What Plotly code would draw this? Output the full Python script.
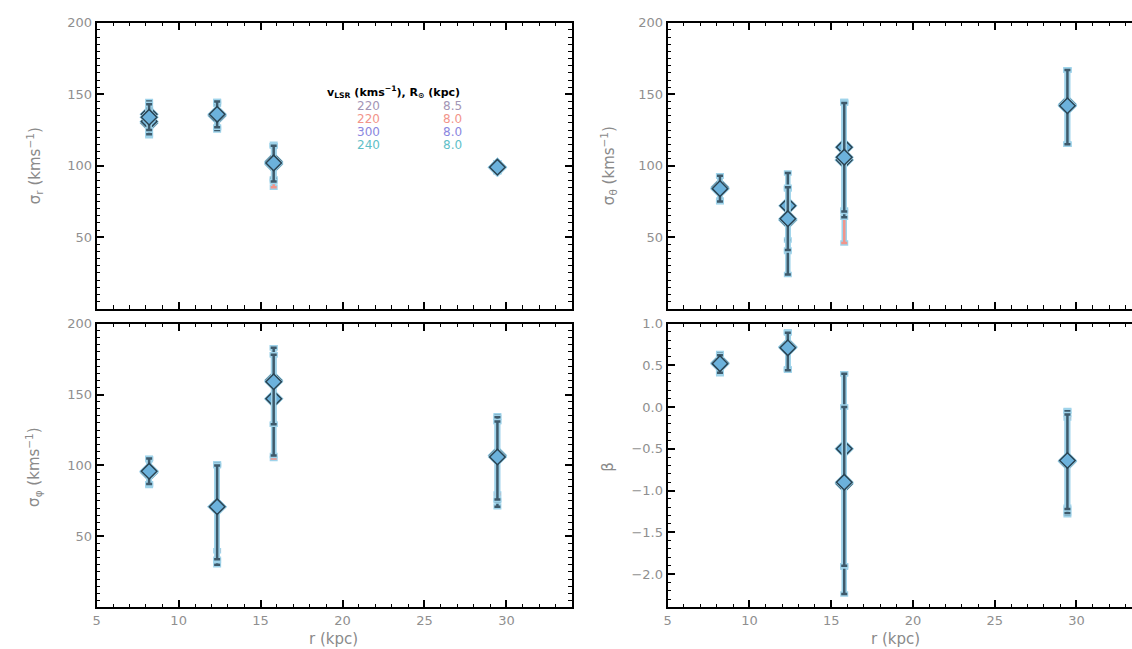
import plotly.graph_objects as go

# ---------------- data ----------------
r_kpc = [8.2, 12.35, 15.8, 29.45]

vlsr = [220, 220, 300, 240]
r0 = [8.5, 8.0, 8.0, 8.0]
model_colors = ["#a395b5", "#f2948a", "#8a86e0", "#5fc0c8"]

# rows = models (220/8.5, 220/8.0, 300/8.0, 240/8.0); columns = r bins
sigma_r_val = [[136, 135, 102, 99], [130, 136, 101, 99], [131, 135, 103, 99], [134, 136, 102, 99]]
sigma_r_up = [[9, 9, 12, 3], [9, 9, 13, 3], [9, 8, 12, 3], [9, 9, 12, 3]]
sigma_r_dn = [[9, 9, 12, 3], [9, 9, 16, 3], [9, 10, 12, 3], [9, 9, 13, 3]]

sigma_t_val = [[84, 72, 113, 142], [84, 62, 104, 143], [85, 62, 104, 142], [84, 63, 106, 142]]
sigma_t_up = [[9, 23, 32, 25], [9, 22, 41, 24], [8, 22, 40, 25], [9, 22, 38, 25]]
sigma_t_dn = [[9, 24, 44, 27], [9, 22, 58, 28], [9, 38, 40, 27], [9, 22, 38, 27]]

sigma_p_val = [[96, 71, 160, 107], [95, 71, 147, 107], [96, 71, 147, 107], [96, 71, 159, 106]]
sigma_p_up = [[9, 30, 23, 28], [9, 29, 36, 24], [9, 30, 31, 27], [9, 29, 19, 25]]
sigma_p_dn = [[9, 41, 31, 36], [9, 31, 42, 27], [9, 38, 40, 32], [9, 37, 30, 30]]

beta_val = [[0.52, 0.72, -0.50, -0.65], [0.52, 0.72, -0.92, -0.65], [0.53, 0.72, -0.50, -0.65], [0.52, 0.71, -0.90, -0.64]]
beta_up = [[0.11, 0.18, 0.90, 0.61], [0.10, 0.17, 0.92, 0.52], [0.11, 0.18, 0.90, 0.60], [0.10, 0.18, 0.90, 0.55]]
beta_dn = [[0.12, 0.27, 1.74, 0.64], [0.11, 0.27, 1.00, 0.55], [0.12, 0.26, 1.40, 0.62], [0.11, 0.27, 1.00, 0.58]]

draw_order = [1, 0, 2, 3]

# ---------------- layout geometry ----------------
W, H = 1132, 649
def px_x(p):
    return p / W
def px_y(p):
    return 1 - p / H

dom_left = [px_x(93), px_x(570)]
dom_right = [px_x(666), 1.0]
dom_top = [px_y(305), px_y(16)]
dom_bot = [px_y(607), px_y(320)]

fig = go.Figure()

panels = [
    ("x", "y", sigma_r_val, sigma_r_up, sigma_r_dn),
    ("x2", "y2", sigma_t_val, sigma_t_up, sigma_t_dn),
    ("x3", "y3", sigma_p_val, sigma_p_up, sigma_p_dn),
    ("x4", "y4", beta_val, beta_up, beta_dn),
]

halo = "#9fd3ea"
bar_dark = "#3e5a6b"
marker_fill = "#6cb2dc"
marker_edge = "#2a4453"

for xa, ya, vals, ups, dns in panels:
    for m in draw_order:
        ebar_col = model_colors[1] if m == 1 else bar_dark
        # light halo under the error bars
        fig.add_trace(go.Scatter(
            x=r_kpc, y=vals[m], xaxis=xa, yaxis=ya, mode="markers",
            marker=dict(symbol="diamond", size=15, color=halo, line=dict(width=0)),
            error_y=dict(type="data", symmetric=False, array=ups[m], arrayminus=dns[m],
                         color=halo, thickness=5.5, width=4),
            showlegend=False, hoverinfo="skip"))
        fig.add_trace(go.Scatter(
            x=r_kpc, y=vals[m], xaxis=xa, yaxis=ya, mode="markers",
            marker=dict(symbol="diamond", size=12, color=marker_fill,
                        line=dict(width=1.5, color=marker_edge)),
            error_y=dict(type="data", symmetric=False, array=ups[m], arrayminus=dns[m],
                         color=ebar_col, thickness=2.5, width=3),
            name=f"{vlsr[m]} {r0[m]}", showlegend=False))

tick_font = dict(family="DejaVu Sans", size=13, color="#8f8f8f")
common_x = dict(ticks="inside", ticklen=7, tickwidth=1.5, tickcolor="black",
                showline=True, linecolor="black", linewidth=2, mirror="allticks",
                showgrid=False, zeroline=False, tickvals=[5, 10, 15, 20, 25, 30],
                minor=dict(ticks="inside", ticklen=3.5, tickwidth=1.2, tickcolor="black", dtick=1, showgrid=False),
                tickfont=tick_font)
common_ys = dict(ticks="inside", ticklen=7, tickwidth=1.5, tickcolor="black",
                 showline=True, linecolor="black", linewidth=2,
                 showgrid=False, zeroline=False, range=[0, 200], tickvals=[50, 100, 150, 200],
                 minor=dict(ticks="inside", ticklen=3.5, tickwidth=1.2, tickcolor="black", dtick=5, showgrid=False),
                 tickfont=tick_font)

fig.update_layout(
    width=W, height=H, margin=dict(l=0, r=0, t=0, b=0),
    paper_bgcolor="white", plot_bgcolor="white", showlegend=False,
    xaxis=dict(domain=dom_left, anchor="y", range=[5, 34], showticklabels=False, **common_x),
    xaxis2=dict(domain=dom_right, anchor="y2", range=[5, 33.4], showticklabels=False, **common_x),
    xaxis3=dict(domain=dom_left, anchor="y3", range=[5, 34], showticklabels=True, **common_x),
    xaxis4=dict(domain=dom_right, anchor="y4", range=[5, 33.4], showticklabels=True, **common_x),
    yaxis=dict(domain=dom_top, anchor="x", mirror="allticks", **common_ys),
    yaxis2=dict(domain=dom_top, anchor="x2", mirror=False, **common_ys),
    yaxis3=dict(domain=dom_bot, anchor="x3", mirror="allticks", **common_ys),
    yaxis4=dict(domain=dom_bot, anchor="x4", mirror=False, ticks="inside", ticklen=7, tickwidth=1.5,
                tickcolor="black", showline=True, linecolor="black", linewidth=2,
                showgrid=False, zeroline=False, range=[-2.4, 1.0],
                tickvals=[-2.0, -1.5, -1.0, -0.5, 0.0, 0.5, 1.0],
                ticktext=["\u22122.0", "\u22121.5", "\u22121.0", "\u22120.5", "0.0", "0.5", "1.0"],
                minor=dict(ticks="inside", ticklen=3.5, tickwidth=1.2, tickcolor="black", dtick=0.1, showgrid=False),
                tickfont=tick_font),
)

label_font = dict(family="DejaVu Sans", size=15, color="#8a8a8a")
ann = []
ann.append(dict(x=px_x(30), y=px_y(160), text="σ<sub>r</sub> (kms<sup>−1</sup>)", textangle=-90))
ann.append(dict(x=px_x(606), y=px_y(160), text="σ<sub>θ</sub> (kms<sup>−1</sup>)", textangle=-90))
ann.append(dict(x=px_x(30), y=px_y(465), text="σ<sub>φ</sub> (kms<sup>−1</sup>)", textangle=-90))
ann.append(dict(x=px_x(606), y=px_y(465), text="β", textangle=-90))
ann.append(dict(x=px_x(331), y=px_y(639), text="r (kpc)", textangle=0))
ann.append(dict(x=px_x(895), y=px_y(639), text="r (kpc)", textangle=0))
for a in ann:
    fig.add_annotation(xref="paper", yref="paper", showarrow=False, font=label_font,
                       xanchor="center", yanchor="middle", **a)

# legend as text table
fig.add_annotation(xref="paper", yref="paper", x=px_x(391), y=px_y(86), showarrow=False,
                   text="<b>v<sub>LSR</sub> (kms<sup>−1</sup>), R<sub>⊙</sub> (kpc)</b>",
                   font=dict(family="DejaVu Sans", size=11, color="black"),
                   xanchor="center", yanchor="middle")
row_y = [100, 113, 126, 139]
for i in range(4):
    fig.add_annotation(xref="paper", yref="paper", x=px_x(366), y=px_y(row_y[i]), showarrow=False,
                       text=str(vlsr[i]), font=dict(family="DejaVu Sans", size=12, color=model_colors[i]),
                       xanchor="center", yanchor="middle")
    fig.add_annotation(xref="paper", yref="paper", x=px_x(450), y=px_y(row_y[i]), showarrow=False,
                       text=f"{r0[i]:.1f}", font=dict(family="DejaVu Sans", size=12, color=model_colors[i]),
                       xanchor="center", yanchor="middle")

fig.write_html("out.html")
